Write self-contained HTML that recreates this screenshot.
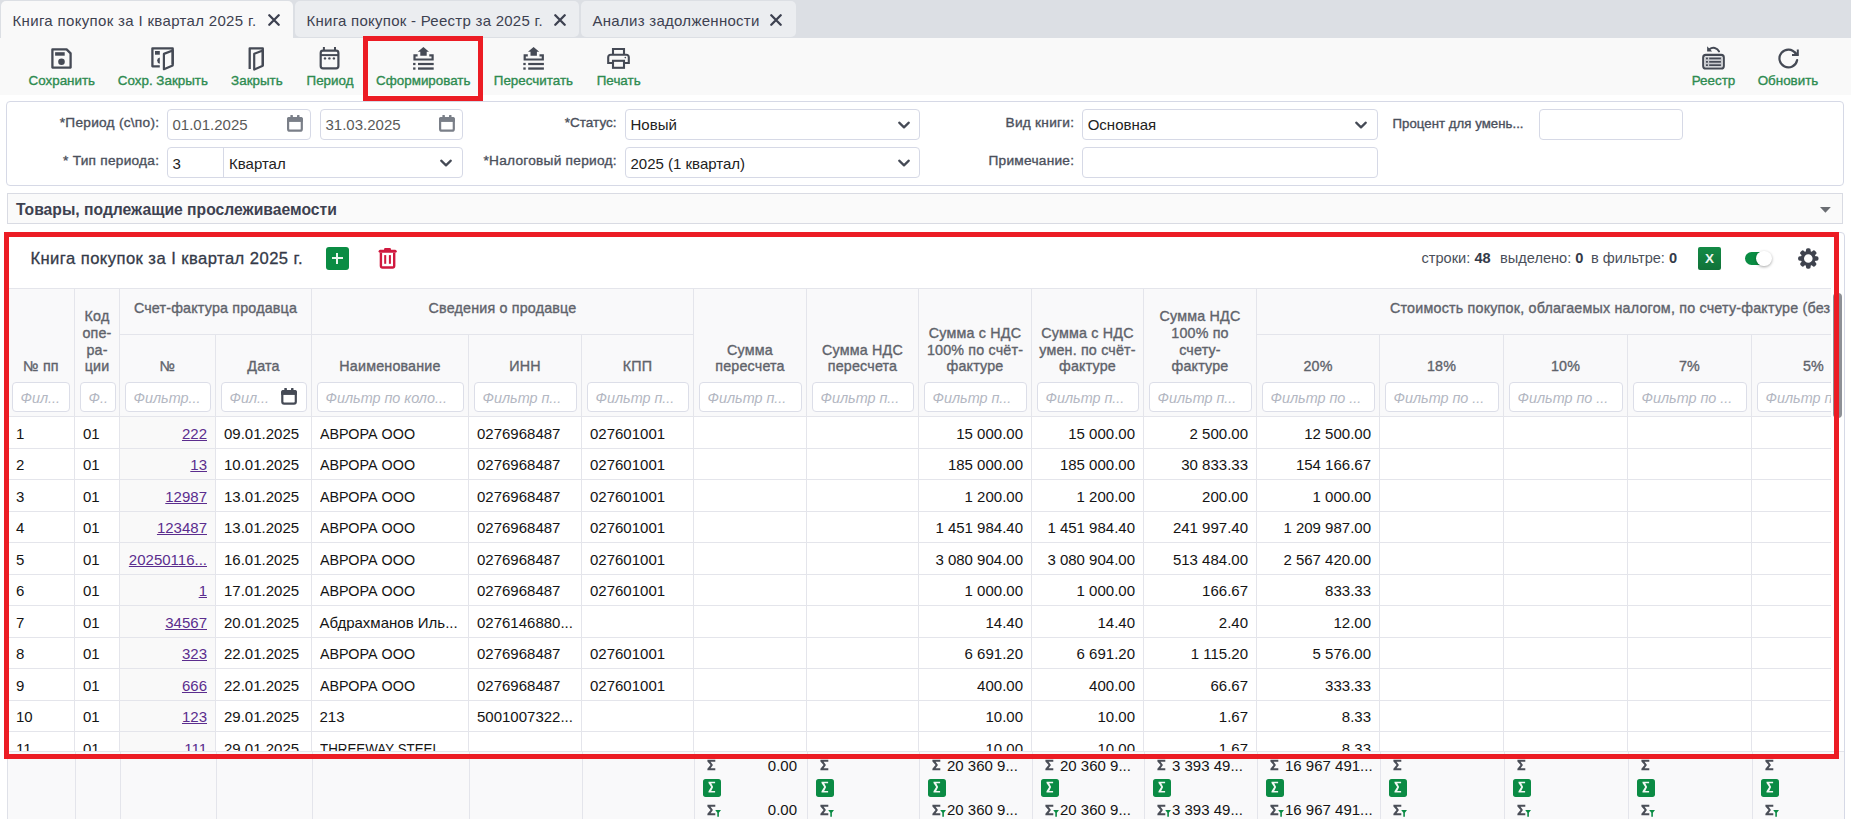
<!DOCTYPE html><html><head><meta charset="utf-8"><style>
*{margin:0;padding:0}
html,body{width:1852px;height:819px;overflow:hidden;background:#fff;font-family:"Liberation Sans", sans-serif;position:relative}
.t{position:absolute;white-space:nowrap}
.b{position:absolute}
</style></head><body><div class="b" style="left:0px;top:0px;width:1852px;height:38px;background:#dcdfe4;"></div>
<div class="b" style="left:1851px;top:0px;width:1px;height:819px;background:#fff;z-index:50"></div>
<div class="b" style="left:1px;top:1px;width:292px;height:37px;background:#f9f9f9;border-radius:5px 5px 0 0;"></div>
<div class="b" style="left:295px;top:1px;width:284px;height:36px;background:#ebedf0;border-radius:5px;"></div>
<div class="b" style="left:581px;top:1px;width:215px;height:36px;background:#ebedf0;border-radius:5px;"></div>
<div class="t" style="top:12.00px;font-size:15px;line-height:18.0px;color:#3d4150;font-weight:400;font-style:normal;left:12.5px;letter-spacing:0.33px;">Книга покупок за I квартал 2025 г.</div>
<svg class="b" style="left:268.0px;top:14.2px" width="12" height="12" viewBox="0 0 12 12"><path d="M1.3 1.3L10.7 10.7M10.7 1.3L1.3 10.7" stroke="#3d4150" stroke-width="2.3" stroke-linecap="round"/></svg>
<div class="t" style="top:12.00px;font-size:15px;line-height:18.0px;color:#3d4150;font-weight:400;font-style:normal;left:306.5px;letter-spacing:0.26px;">Книга покупок - Реестр за 2025 г.</div>
<svg class="b" style="left:554.0px;top:14.2px" width="12" height="12" viewBox="0 0 12 12"><path d="M1.3 1.3L10.7 10.7M10.7 1.3L1.3 10.7" stroke="#3d4150" stroke-width="2.3" stroke-linecap="round"/></svg>
<div class="t" style="top:12.00px;font-size:15px;line-height:18.0px;color:#3d4150;font-weight:400;font-style:normal;left:592.5px;letter-spacing:0.28px;">Анализ задолженности</div>
<svg class="b" style="left:770.0px;top:14.2px" width="12" height="12" viewBox="0 0 12 12"><path d="M1.3 1.3L10.7 10.7M10.7 1.3L1.3 10.7" stroke="#3d4150" stroke-width="2.3" stroke-linecap="round"/></svg>
<div class="b" style="left:0px;top:38px;width:1851px;height:57px;background:#f9f9f9;"></div>
<div class="t" style="top:72.52px;font-size:13.4px;line-height:16.08px;color:#2e8b50;font-weight:400;font-style:normal;-webkit-text-stroke:0.35px #2e8b50;left:-38.2px;width:200px;text-align:center;">Сохранить</div>
<div class="t" style="top:72.52px;font-size:13.4px;line-height:16.08px;color:#2e8b50;font-weight:400;font-style:normal;-webkit-text-stroke:0.35px #2e8b50;left:62.900000000000006px;width:200px;text-align:center;">Сохр. Закрыть</div>
<div class="t" style="top:72.52px;font-size:13.4px;line-height:16.08px;color:#2e8b50;font-weight:400;font-style:normal;-webkit-text-stroke:0.35px #2e8b50;left:156.89999999999998px;width:200px;text-align:center;">Закрыть</div>
<div class="t" style="top:72.52px;font-size:13.4px;line-height:16.08px;color:#2e8b50;font-weight:400;font-style:normal;-webkit-text-stroke:0.35px #2e8b50;left:230.0px;width:200px;text-align:center;">Период</div>
<div class="t" style="top:72.52px;font-size:13.4px;line-height:16.08px;color:#2e8b50;font-weight:400;font-style:normal;-webkit-text-stroke:0.35px #2e8b50;left:323.3px;width:200px;text-align:center;">Сформировать</div>
<div class="t" style="top:72.52px;font-size:13.4px;line-height:16.08px;color:#2e8b50;font-weight:400;font-style:normal;-webkit-text-stroke:0.35px #2e8b50;left:433.4px;width:200px;text-align:center;">Пересчитать</div>
<div class="t" style="top:72.52px;font-size:13.4px;line-height:16.08px;color:#2e8b50;font-weight:400;font-style:normal;-webkit-text-stroke:0.35px #2e8b50;left:518.7px;width:200px;text-align:center;">Печать</div>
<div class="t" style="top:72.52px;font-size:13.4px;line-height:16.08px;color:#2e8b50;font-weight:400;font-style:normal;-webkit-text-stroke:0.35px #2e8b50;left:1613.5px;width:200px;text-align:center;">Реестр</div>
<div class="t" style="top:72.52px;font-size:13.4px;line-height:16.08px;color:#2e8b50;font-weight:400;font-style:normal;-webkit-text-stroke:0.35px #2e8b50;left:1688.0px;width:200px;text-align:center;">Обновить</div>
<div class="b" style="left:363px;top:36px;width:120px;height:65px;border:5px solid #ec1c24;box-sizing:border-box;z-index:40;"></div>
<div class="b" style="left:6px;top:101px;width:1838px;height:85px;background:#fff;border:1px solid #d6d9e6;border-radius:4px;box-sizing:border-box;"></div>
<div class="t" style="top:115.13px;font-size:13.7px;line-height:16.44px;color:#4b505c;font-weight:400;font-style:normal;-webkit-text-stroke:0.35px #4b505c;right:1692.75px;text-align:right;letter-spacing:0.25px;">*Период (с\по):</div>
<div class="t" style="top:153.03px;font-size:13.7px;line-height:16.44px;color:#4b505c;font-weight:400;font-style:normal;-webkit-text-stroke:0.35px #4b505c;right:1692.75px;text-align:right;letter-spacing:0.25px;">* Тип периода:</div>
<div class="b" style="left:167px;top:109px;width:144px;height:31px;background:#fff;border:1px solid #d6d9e6;border-radius:4px;box-sizing:border-box;"></div>
<div class="b" style="left:320px;top:109px;width:143px;height:31px;background:#fff;border:1px solid #d6d9e6;border-radius:4px;box-sizing:border-box;"></div>
<div class="b" style="left:167px;top:147px;width:296px;height:31px;background:#fff;border:1px solid #d6d9e6;border-radius:4px;box-sizing:border-box;"></div>
<div class="b" style="left:223px;top:148px;width:1px;height:29px;background:#d6d9e6;"></div>
<div class="t" style="top:116.10px;font-size:15px;line-height:18.0px;color:#5a5a5a;font-weight:400;font-style:normal;left:172.5px;">01.01.2025</div>
<div class="t" style="top:116.10px;font-size:15px;line-height:18.0px;color:#5a5a5a;font-weight:400;font-style:normal;left:325.5px;">31.03.2025</div>
<div class="t" style="top:155.10px;font-size:15px;line-height:18.0px;color:#222;font-weight:400;font-style:normal;left:172.5px;">3</div>
<div class="t" style="top:155.10px;font-size:15px;line-height:18.0px;color:#222;font-weight:400;font-style:normal;left:229px;">Квартал</div>
<div class="t" style="top:115.32px;font-size:13.5px;line-height:16.2px;color:#4b505c;font-weight:400;font-style:normal;-webkit-text-stroke:0.35px #4b505c;right:1235.5px;text-align:right;letter-spacing:0px;">*Статус:</div>
<div class="t" style="top:153.03px;font-size:13.7px;line-height:16.44px;color:#4b505c;font-weight:400;font-style:normal;-webkit-text-stroke:0.35px #4b505c;right:1235.25px;text-align:right;letter-spacing:0.25px;">*Налоговый период:</div>
<div class="b" style="left:625px;top:109px;width:295px;height:31px;background:#fff;border:1px solid #d6d9e6;border-radius:4px;box-sizing:border-box;"></div>
<div class="b" style="left:625px;top:147px;width:295px;height:31px;background:#fff;border:1px solid #d6d9e6;border-radius:4px;box-sizing:border-box;"></div>
<div class="t" style="top:116.10px;font-size:15px;line-height:18.0px;color:#222;font-weight:400;font-style:normal;left:630.5px;">Новый</div>
<div class="t" style="top:155.10px;font-size:15px;line-height:18.0px;color:#222;font-weight:400;font-style:normal;left:630.5px;">2025 (1 квартал)</div>
<div class="t" style="top:115.13px;font-size:13.7px;line-height:16.44px;color:#4b505c;font-weight:400;font-style:normal;-webkit-text-stroke:0.35px #4b505c;right:777.75px;text-align:right;letter-spacing:0.25px;">Вид книги:</div>
<div class="t" style="top:153.03px;font-size:13.7px;line-height:16.44px;color:#4b505c;font-weight:400;font-style:normal;-webkit-text-stroke:0.35px #4b505c;right:777.75px;text-align:right;letter-spacing:0.25px;">Примечание:</div>
<div class="b" style="left:1082px;top:109px;width:296px;height:31px;background:#fff;border:1px solid #d6d9e6;border-radius:4px;box-sizing:border-box;"></div>
<div class="b" style="left:1082px;top:147px;width:296px;height:31px;background:#fff;border:1px solid #d6d9e6;border-radius:4px;box-sizing:border-box;"></div>
<div class="t" style="top:116.10px;font-size:15px;line-height:18.0px;color:#222;font-weight:400;font-style:normal;left:1087.7px;">Основная</div>
<div class="t" style="top:115.61px;font-size:13.2px;line-height:15.84px;color:#4b505c;font-weight:400;font-style:normal;-webkit-text-stroke:0.35px #4b505c;right:328.45000000000005px;text-align:right;letter-spacing:0.05px;">Процент для умень...</div>
<div class="b" style="left:1539px;top:109px;width:144px;height:31px;background:#fff;border:1px solid #d6d9e6;border-radius:4px;box-sizing:border-box;"></div>
<svg class="b" style="left:45px;top:42px;" width="40" height="32" viewBox="45 42 40 32"><path d="M52.4 49.4H66.6L70.6 53.4V67.6H52.4Z" fill="none" stroke="#454a55" stroke-width="2.3" stroke-linejoin="round"/><rect x="55.1" y="52.2" width="9.6" height="3.5" fill="#454a55"/><circle cx="61.5" cy="61.7" r="3.3" fill="#454a55"/></svg>
<svg class="b" style="left:145px;top:42px;" width="40" height="32" viewBox="145 42 40 32"><path d="M159.8 66.3H152.4V48.3H172.7V64.5" fill="none" stroke="#454a55" stroke-width="2.3" stroke-linejoin="round"/><path d="M163.9 53.9L172.7 50.5V65.4L163.9 69.2Z" fill="none" stroke="#454a55" stroke-width="2.2" stroke-linejoin="round"/><rect x="155" y="51" width="4.8" height="3.7" fill="#454a55"/><path d="M159.8 57.4A3.2 3.2 0 0 0 159.8 63.7Z" fill="#454a55"/></svg>
<svg class="b" style="left:238px;top:42px;" width="40" height="32" viewBox="238 42 40 32"><path d="M249.7 69V48.3H262.8V65.5" fill="none" stroke="#454a55" stroke-width="2.3" stroke-linejoin="round"/><path d="M254.2 53.8L262.8 50.5V65.7L254.2 69.6Z" fill="none" stroke="#454a55" stroke-width="2.2" stroke-linejoin="round"/></svg>
<svg class="b" style="left:310px;top:42px;" width="40" height="32" viewBox="310 42 40 32"><rect x="320.7" y="50.7" width="17.7" height="17.7" rx="2.3" fill="none" stroke="#454a55" stroke-width="2.2"/><path d="M320.7 55.1H338.4" stroke="#454a55" stroke-width="2"/><path d="M323.9 47.1V50.5M335 47.1V50.5" stroke="#454a55" stroke-width="2"/><circle cx="325" cy="58.4" r="1.2" fill="#454a55"/><circle cx="329.4" cy="58.4" r="1.2" fill="#454a55"/><circle cx="333.9" cy="58.4" r="1.2" fill="#454a55"/></svg>
<svg class="b" style="left:403px;top:42px;" width="40" height="32" viewBox="403 42 40 32"><g transform="translate(0 0)"><path d="M423.4 47.1L429 51.7H426.7V55.7H420.3V51.7H417.8Z" fill="#454a55"/><path d="M417.6 55.3H414.5V59.5H432.6V55.3H429.3" fill="none" stroke="#454a55" stroke-width="2.2"/><rect x="413.1" y="62.9" width="2.4" height="2.2" fill="#454a55"/><rect x="418" y="62.9" width="15.7" height="2.2" fill="#454a55"/><rect x="413.1" y="67.4" width="2.4" height="2.3" fill="#454a55"/><rect x="418" y="67.4" width="15.7" height="2.3" fill="#454a55"/></g></svg>
<svg class="b" style="left:513px;top:42px;" width="40" height="32" viewBox="513 42 40 32"><g transform="translate(110.2 0)"><path d="M423.4 47.1L429 51.7H426.7V55.7H420.3V51.7H417.8Z" fill="#454a55"/><path d="M417.6 55.3H414.5V59.5H432.6V55.3H429.3" fill="none" stroke="#454a55" stroke-width="2.2"/><rect x="413.1" y="62.9" width="2.4" height="2.2" fill="#454a55"/><rect x="418" y="62.9" width="15.7" height="2.2" fill="#454a55"/><rect x="413.1" y="67.4" width="2.4" height="2.3" fill="#454a55"/><rect x="418" y="67.4" width="15.7" height="2.3" fill="#454a55"/></g></svg>
<svg class="b" style="left:598px;top:42px;" width="40" height="32" viewBox="598 42 40 32"><path d="M613 54.5V49H624V54.5" fill="none" stroke="#454a55" stroke-width="2.1"/><path d="M613 63H608.2V57.3A2.6 2.6 0 0 1 610.8 54.8H626.2A2.6 2.6 0 0 1 628.8 57.3V63H624" fill="none" stroke="#454a55" stroke-width="2.1"/><rect x="613" y="60.8" width="11" height="7" fill="none" stroke="#454a55" stroke-width="2.1"/><circle cx="625.3" cy="57.6" r="0.8" fill="#454a55"/></svg>
<svg class="b" style="left:1693px;top:42px;" width="40" height="32" viewBox="1693 42 40 32"><rect x="1703.2" y="54.9" width="20.6" height="13.6" rx="2.6" fill="none" stroke="#454a55" stroke-width="2.1"/><rect x="1705" y="56.6" width="17" height="10.2" fill="#c8cacf"/><g fill="#454a55"><rect x="1706" y="57.6" width="1.9" height="1.7"/><rect x="1709.2" y="57.6" width="11.7" height="1.7"/><rect x="1706" y="61" width="1.9" height="1.7"/><rect x="1709.2" y="61" width="11.7" height="1.7"/><rect x="1706" y="64.3" width="1.9" height="1.7"/><rect x="1709.2" y="64.3" width="11.7" height="1.7"/></g><path d="M1707.1 46.2V51.6H1712.2Z" fill="#454a55"/><path d="M1709.5 49.2A6.2 6.2 0 0 1 1719 51.4" fill="none" stroke="#454a55" stroke-width="2.1" stroke-linecap="round"/></svg>
<svg class="b" style="left:1768px;top:42px;" width="40" height="32" viewBox="1768 42 40 32"><path d="M1797.1 60.2A8.9 8.9 0 1 1 1795.6 53.3" fill="none" stroke="#454a55" stroke-width="2.2" stroke-linecap="round"/><path d="M1797.8 49.4V55H1792" fill="none" stroke="#454a55" stroke-width="2"/><path d="M1797.8 55L1794.5 52" stroke="#454a55" stroke-width="2"/></svg>
<svg class="b" style="left:285px;top:113px;" width="20" height="21" viewBox="285 113 20 21"><rect x="288.1" y="118.1" width="13.699999999999978" height="12.600000000000012" rx="1.8" fill="none" stroke="#7a7f88" stroke-width="2.2"/><rect x="287" y="117" width="15.899999999999977" height="4.700000000000003" rx="1.8" fill="#7a7f88"/><rect x="287" y="118.8" width="15.899999999999977" height="2.900000000000003" fill="#7a7f88"/><rect x="290.4" y="114.9" width="2.5" height="2.6" rx="0.6" fill="#7a7f88"/><rect x="297" y="114.9" width="2.5" height="2.6" rx="0.6" fill="#7a7f88"/></svg>
<svg class="b" style="left:437px;top:113px;" width="20" height="21" viewBox="437 113 20 21"><rect x="440.1" y="118.1" width="13.699999999999978" height="12.600000000000012" rx="1.8" fill="none" stroke="#7a7f88" stroke-width="2.2"/><rect x="439" y="117" width="15.899999999999977" height="4.700000000000003" rx="1.8" fill="#7a7f88"/><rect x="439" y="118.8" width="15.899999999999977" height="2.900000000000003" fill="#7a7f88"/><rect x="442.4" y="114.9" width="2.5" height="2.6" rx="0.6" fill="#7a7f88"/><rect x="449" y="114.9" width="2.5" height="2.6" rx="0.6" fill="#7a7f88"/></svg>
<svg class="b" style="left:438.9px;top:157.05px;" width="14" height="12" viewBox="438.9 157.05 14 12"><path d="M441.09999999999997 160.70000000000002L445.9 165.4L450.7 160.70000000000002" fill="none" stroke="#454a55" stroke-width="2.2" stroke-linecap="round" stroke-linejoin="round"/></svg>
<svg class="b" style="left:897px;top:118.6px;" width="14" height="12" viewBox="897 118.6 14 12"><path d="M899.2 122.25L904 126.94999999999999L908.8 122.25" fill="none" stroke="#454a55" stroke-width="2.2" stroke-linecap="round" stroke-linejoin="round"/></svg>
<svg class="b" style="left:897px;top:157.05px;" width="14" height="12" viewBox="897 157.05 14 12"><path d="M899.2 160.70000000000002L904 165.4L908.8 160.70000000000002" fill="none" stroke="#454a55" stroke-width="2.2" stroke-linecap="round" stroke-linejoin="round"/></svg>
<svg class="b" style="left:1354px;top:118.6px;" width="14" height="12" viewBox="1354 118.6 14 12"><path d="M1356.2 122.25L1361 126.94999999999999L1365.8 122.25" fill="none" stroke="#454a55" stroke-width="2.2" stroke-linecap="round" stroke-linejoin="round"/></svg>
<div class="b" style="left:7px;top:193px;width:1836px;height:31px;background:#fafafa;border:1px solid #d9dbe3;box-sizing:border-box;"></div>
<svg class="b" style="left:1815px;top:200px;" width="20" height="18" viewBox="1815 200 20 18"><path d="M1820 206.9H1830.8L1825.4 212.7Z" fill="#6a6d72"/></svg>
<div class="t" style="top:200.74px;font-size:15.7px;line-height:18.84px;color:#3d4150;font-weight:700;font-style:normal;left:16px;">Товары, подлежащие прослеживаемости</div>
<div class="b" style="left:7px;top:232px;width:1838px;height:587px;background:#fff;border:1px solid #d6d9e6;border-radius:4px;box-sizing:border-box;"></div>
<div class="b" style="left:7px;top:288px;width:1824px;height:128px;background:#f9f9fa;"></div>
<div class="b" style="left:7px;top:288px;width:1824px;height:1px;background:#e4e5eb;"></div>
<div class="b" style="left:7px;top:416px;width:1824px;height:1px;background:#e4e5eb;"></div>
<div class="b" style="left:119px;top:334px;width:192px;height:1px;background:#e4e5eb;"></div>
<div class="b" style="left:311px;top:334px;width:382px;height:1px;background:#e4e5eb;"></div>
<div class="b" style="left:1256px;top:334px;width:575px;height:1px;background:#e4e5eb;"></div>
<div class="b" style="left:74px;top:288px;width:1px;height:128px;background:#e4e5eb;"></div>
<div class="b" style="left:119px;top:288px;width:1px;height:128px;background:#e4e5eb;"></div>
<div class="b" style="left:215px;top:334px;width:1px;height:82px;background:#e4e5eb;"></div>
<div class="b" style="left:311px;top:288px;width:1px;height:128px;background:#e4e5eb;"></div>
<div class="b" style="left:468px;top:334px;width:1px;height:82px;background:#e4e5eb;"></div>
<div class="b" style="left:581px;top:334px;width:1px;height:82px;background:#e4e5eb;"></div>
<div class="b" style="left:693px;top:288px;width:1px;height:128px;background:#e4e5eb;"></div>
<div class="b" style="left:806px;top:288px;width:1px;height:128px;background:#e4e5eb;"></div>
<div class="b" style="left:918px;top:288px;width:1px;height:128px;background:#e4e5eb;"></div>
<div class="b" style="left:1031px;top:288px;width:1px;height:128px;background:#e4e5eb;"></div>
<div class="b" style="left:1143px;top:288px;width:1px;height:128px;background:#e4e5eb;"></div>
<div class="b" style="left:1256px;top:288px;width:1px;height:128px;background:#e4e5eb;"></div>
<div class="b" style="left:1379px;top:334px;width:1px;height:82px;background:#e4e5eb;"></div>
<div class="b" style="left:1503px;top:334px;width:1px;height:82px;background:#e4e5eb;"></div>
<div class="b" style="left:1627px;top:334px;width:1px;height:82px;background:#e4e5eb;"></div>
<div class="b" style="left:1751px;top:334px;width:1px;height:82px;background:#e4e5eb;"></div>
<div class="t" style="top:358.47px;font-size:14.3px;line-height:17.16px;color:#5f636b;font-weight:400;font-style:normal;-webkit-text-stroke:0.35px #5f636b;left:-109.0px;width:300px;text-align:center;letter-spacing:0.18px;">№ пп</div>
<div class="t" style="top:308.46px;font-size:14.3px;line-height:17.16px;color:#5f636b;font-weight:400;font-style:normal;-webkit-text-stroke:0.35px #5f636b;left:-53.0px;width:300px;text-align:center;letter-spacing:0.18px;">Код</div>
<div class="t" style="top:325.13px;font-size:14.3px;line-height:17.16px;color:#5f636b;font-weight:400;font-style:normal;-webkit-text-stroke:0.35px #5f636b;left:-53.0px;width:300px;text-align:center;letter-spacing:0.18px;">опе-</div>
<div class="t" style="top:341.80px;font-size:14.3px;line-height:17.16px;color:#5f636b;font-weight:400;font-style:normal;-webkit-text-stroke:0.35px #5f636b;left:-53.0px;width:300px;text-align:center;letter-spacing:0.18px;">ра-</div>
<div class="t" style="top:358.47px;font-size:14.3px;line-height:17.16px;color:#5f636b;font-weight:400;font-style:normal;-webkit-text-stroke:0.35px #5f636b;left:-53.0px;width:300px;text-align:center;letter-spacing:0.18px;">ции</div>
<div class="t" style="top:358.47px;font-size:14.3px;line-height:17.16px;color:#5f636b;font-weight:400;font-style:normal;-webkit-text-stroke:0.35px #5f636b;left:17.5px;width:300px;text-align:center;letter-spacing:0.18px;">№</div>
<div class="t" style="top:358.47px;font-size:14.3px;line-height:17.16px;color:#5f636b;font-weight:400;font-style:normal;-webkit-text-stroke:0.35px #5f636b;left:113.5px;width:300px;text-align:center;letter-spacing:0.18px;">Дата</div>
<div class="t" style="top:358.47px;font-size:14.3px;line-height:17.16px;color:#5f636b;font-weight:400;font-style:normal;-webkit-text-stroke:0.35px #5f636b;left:240.0px;width:300px;text-align:center;letter-spacing:0.18px;">Наименование</div>
<div class="t" style="top:358.47px;font-size:14.3px;line-height:17.16px;color:#5f636b;font-weight:400;font-style:normal;-webkit-text-stroke:0.35px #5f636b;left:375.0px;width:300px;text-align:center;letter-spacing:0.18px;">ИНН</div>
<div class="t" style="top:358.47px;font-size:14.3px;line-height:17.16px;color:#5f636b;font-weight:400;font-style:normal;-webkit-text-stroke:0.35px #5f636b;left:487.5px;width:300px;text-align:center;letter-spacing:0.18px;">КПП</div>
<div class="t" style="top:341.80px;font-size:14.3px;line-height:17.16px;color:#5f636b;font-weight:400;font-style:normal;-webkit-text-stroke:0.35px #5f636b;left:600.0px;width:300px;text-align:center;letter-spacing:0.18px;">Сумма</div>
<div class="t" style="top:358.47px;font-size:14.3px;line-height:17.16px;color:#5f636b;font-weight:400;font-style:normal;-webkit-text-stroke:0.35px #5f636b;left:600.0px;width:300px;text-align:center;letter-spacing:0.18px;">пересчета</div>
<div class="t" style="top:341.80px;font-size:14.3px;line-height:17.16px;color:#5f636b;font-weight:400;font-style:normal;-webkit-text-stroke:0.35px #5f636b;left:712.5px;width:300px;text-align:center;letter-spacing:0.18px;">Сумма НДС</div>
<div class="t" style="top:358.47px;font-size:14.3px;line-height:17.16px;color:#5f636b;font-weight:400;font-style:normal;-webkit-text-stroke:0.35px #5f636b;left:712.5px;width:300px;text-align:center;letter-spacing:0.18px;">пересчета</div>
<div class="t" style="top:325.13px;font-size:14.3px;line-height:17.16px;color:#5f636b;font-weight:400;font-style:normal;-webkit-text-stroke:0.35px #5f636b;left:825.0px;width:300px;text-align:center;letter-spacing:0.18px;">Сумма с НДС</div>
<div class="t" style="top:341.80px;font-size:14.3px;line-height:17.16px;color:#5f636b;font-weight:400;font-style:normal;-webkit-text-stroke:0.35px #5f636b;left:825.0px;width:300px;text-align:center;letter-spacing:0.18px;">100% по счёт-</div>
<div class="t" style="top:358.47px;font-size:14.3px;line-height:17.16px;color:#5f636b;font-weight:400;font-style:normal;-webkit-text-stroke:0.35px #5f636b;left:825.0px;width:300px;text-align:center;letter-spacing:0.18px;">фактуре</div>
<div class="t" style="top:325.13px;font-size:14.3px;line-height:17.16px;color:#5f636b;font-weight:400;font-style:normal;-webkit-text-stroke:0.35px #5f636b;left:937.5px;width:300px;text-align:center;letter-spacing:0.18px;">Сумма с НДС</div>
<div class="t" style="top:341.80px;font-size:14.3px;line-height:17.16px;color:#5f636b;font-weight:400;font-style:normal;-webkit-text-stroke:0.35px #5f636b;left:937.5px;width:300px;text-align:center;letter-spacing:0.18px;">умен. по счёт-</div>
<div class="t" style="top:358.47px;font-size:14.3px;line-height:17.16px;color:#5f636b;font-weight:400;font-style:normal;-webkit-text-stroke:0.35px #5f636b;left:937.5px;width:300px;text-align:center;letter-spacing:0.18px;">фактуре</div>
<div class="t" style="top:308.46px;font-size:14.3px;line-height:17.16px;color:#5f636b;font-weight:400;font-style:normal;-webkit-text-stroke:0.35px #5f636b;left:1050.0px;width:300px;text-align:center;letter-spacing:0.18px;">Сумма НДС</div>
<div class="t" style="top:325.13px;font-size:14.3px;line-height:17.16px;color:#5f636b;font-weight:400;font-style:normal;-webkit-text-stroke:0.35px #5f636b;left:1050.0px;width:300px;text-align:center;letter-spacing:0.18px;">100% по</div>
<div class="t" style="top:341.80px;font-size:14.3px;line-height:17.16px;color:#5f636b;font-weight:400;font-style:normal;-webkit-text-stroke:0.35px #5f636b;left:1050.0px;width:300px;text-align:center;letter-spacing:0.18px;">счету-</div>
<div class="t" style="top:358.47px;font-size:14.3px;line-height:17.16px;color:#5f636b;font-weight:400;font-style:normal;-webkit-text-stroke:0.35px #5f636b;left:1050.0px;width:300px;text-align:center;letter-spacing:0.18px;">фактуре</div>
<div class="t" style="top:358.47px;font-size:14.3px;line-height:17.16px;color:#5f636b;font-weight:400;font-style:normal;-webkit-text-stroke:0.35px #5f636b;left:1168.0px;width:300px;text-align:center;letter-spacing:0.18px;">20%</div>
<div class="t" style="top:358.47px;font-size:14.3px;line-height:17.16px;color:#5f636b;font-weight:400;font-style:normal;-webkit-text-stroke:0.35px #5f636b;left:1291.5px;width:300px;text-align:center;letter-spacing:0.18px;">18%</div>
<div class="t" style="top:358.47px;font-size:14.3px;line-height:17.16px;color:#5f636b;font-weight:400;font-style:normal;-webkit-text-stroke:0.35px #5f636b;left:1415.5px;width:300px;text-align:center;letter-spacing:0.18px;">10%</div>
<div class="t" style="top:358.47px;font-size:14.3px;line-height:17.16px;color:#5f636b;font-weight:400;font-style:normal;-webkit-text-stroke:0.35px #5f636b;left:1539.5px;width:300px;text-align:center;letter-spacing:0.18px;">7%</div>
<div class="t" style="top:358.47px;font-size:14.3px;line-height:17.16px;color:#5f636b;font-weight:400;font-style:normal;-webkit-text-stroke:0.35px #5f636b;left:1663.5px;width:300px;text-align:center;letter-spacing:0.18px;">5%</div>
<div class="t" style="top:300.47px;font-size:14.3px;line-height:17.16px;color:#5f636b;font-weight:400;font-style:normal;-webkit-text-stroke:0.35px #5f636b;left:65.5px;width:300px;text-align:center;letter-spacing:0.18px;">Счет-фактура продавца</div>
<div class="t" style="top:300.47px;font-size:14.3px;line-height:17.16px;color:#5f636b;font-weight:400;font-style:normal;-webkit-text-stroke:0.35px #5f636b;left:352.5px;width:300px;text-align:center;letter-spacing:0.18px;">Сведения о продавце</div>
<div class="t" style="top:300.47px;font-size:14.3px;line-height:17.16px;color:#5f636b;font-weight:400;font-style:normal;-webkit-text-stroke:0.35px #5f636b;left:1390px;letter-spacing:0.2px;">Стоимость покупок, облагаемых налогом, по счету-фактуре (без вычета НДС)</div>
<div class="b" style="left:12px;top:382px;width:58px;height:30px;background:#fff;border:1px solid #dcdee8;border-radius:4px;box-sizing:border-box;"></div>
<div class="t" style="top:389.57px;font-size:14.4px;line-height:17.28px;color:#b3b7c2;font-weight:400;font-style:italic;left:20.5px;">Фил...</div>
<div class="b" style="left:80px;top:382px;width:36px;height:30px;background:#fff;border:1px solid #dcdee8;border-radius:4px;box-sizing:border-box;"></div>
<div class="t" style="top:389.57px;font-size:14.4px;line-height:17.28px;color:#b3b7c2;font-weight:400;font-style:italic;left:88.5px;">Ф..</div>
<div class="b" style="left:125px;top:382px;width:86px;height:30px;background:#fff;border:1px solid #dcdee8;border-radius:4px;box-sizing:border-box;"></div>
<div class="t" style="top:389.57px;font-size:14.4px;line-height:17.28px;color:#b3b7c2;font-weight:400;font-style:italic;left:133.5px;">Фильтр...</div>
<div class="b" style="left:221px;top:382px;width:86px;height:30px;background:#fff;border:1px solid #dcdee8;border-radius:4px;box-sizing:border-box;"></div>
<div class="t" style="top:389.57px;font-size:14.4px;line-height:17.28px;color:#b3b7c2;font-weight:400;font-style:italic;left:229.5px;">Фил...</div>
<div class="b" style="left:317px;top:382px;width:147px;height:30px;background:#fff;border:1px solid #dcdee8;border-radius:4px;box-sizing:border-box;"></div>
<div class="t" style="top:389.57px;font-size:14.4px;line-height:17.28px;color:#b3b7c2;font-weight:400;font-style:italic;left:325.5px;">Фильтр по коло...</div>
<div class="b" style="left:474px;top:382px;width:103px;height:30px;background:#fff;border:1px solid #dcdee8;border-radius:4px;box-sizing:border-box;"></div>
<div class="t" style="top:389.57px;font-size:14.4px;line-height:17.28px;color:#b3b7c2;font-weight:400;font-style:italic;left:482.5px;">Фильтр п...</div>
<div class="b" style="left:587px;top:382px;width:102px;height:30px;background:#fff;border:1px solid #dcdee8;border-radius:4px;box-sizing:border-box;"></div>
<div class="t" style="top:389.57px;font-size:14.4px;line-height:17.28px;color:#b3b7c2;font-weight:400;font-style:italic;left:595.5px;">Фильтр п...</div>
<div class="b" style="left:699px;top:382px;width:103px;height:30px;background:#fff;border:1px solid #dcdee8;border-radius:4px;box-sizing:border-box;"></div>
<div class="t" style="top:389.57px;font-size:14.4px;line-height:17.28px;color:#b3b7c2;font-weight:400;font-style:italic;left:707.5px;">Фильтр п...</div>
<div class="b" style="left:812px;top:382px;width:102px;height:30px;background:#fff;border:1px solid #dcdee8;border-radius:4px;box-sizing:border-box;"></div>
<div class="t" style="top:389.57px;font-size:14.4px;line-height:17.28px;color:#b3b7c2;font-weight:400;font-style:italic;left:820.5px;">Фильтр п...</div>
<div class="b" style="left:924px;top:382px;width:103px;height:30px;background:#fff;border:1px solid #dcdee8;border-radius:4px;box-sizing:border-box;"></div>
<div class="t" style="top:389.57px;font-size:14.4px;line-height:17.28px;color:#b3b7c2;font-weight:400;font-style:italic;left:932.5px;">Фильтр п...</div>
<div class="b" style="left:1037px;top:382px;width:102px;height:30px;background:#fff;border:1px solid #dcdee8;border-radius:4px;box-sizing:border-box;"></div>
<div class="t" style="top:389.57px;font-size:14.4px;line-height:17.28px;color:#b3b7c2;font-weight:400;font-style:italic;left:1045.5px;">Фильтр п...</div>
<div class="b" style="left:1149px;top:382px;width:103px;height:30px;background:#fff;border:1px solid #dcdee8;border-radius:4px;box-sizing:border-box;"></div>
<div class="t" style="top:389.57px;font-size:14.4px;line-height:17.28px;color:#b3b7c2;font-weight:400;font-style:italic;left:1157.5px;">Фильтр п...</div>
<div class="b" style="left:1262px;top:382px;width:113px;height:30px;background:#fff;border:1px solid #dcdee8;border-radius:4px;box-sizing:border-box;"></div>
<div class="t" style="top:389.57px;font-size:14.4px;line-height:17.28px;color:#b3b7c2;font-weight:400;font-style:italic;left:1270.5px;">Фильтр по ...</div>
<div class="b" style="left:1385px;top:382px;width:114px;height:30px;background:#fff;border:1px solid #dcdee8;border-radius:4px;box-sizing:border-box;"></div>
<div class="t" style="top:389.57px;font-size:14.4px;line-height:17.28px;color:#b3b7c2;font-weight:400;font-style:italic;left:1393.5px;">Фильтр по ...</div>
<div class="b" style="left:1509px;top:382px;width:114px;height:30px;background:#fff;border:1px solid #dcdee8;border-radius:4px;box-sizing:border-box;"></div>
<div class="t" style="top:389.57px;font-size:14.4px;line-height:17.28px;color:#b3b7c2;font-weight:400;font-style:italic;left:1517.5px;">Фильтр по ...</div>
<div class="b" style="left:1633px;top:382px;width:114px;height:30px;background:#fff;border:1px solid #dcdee8;border-radius:4px;box-sizing:border-box;"></div>
<div class="t" style="top:389.57px;font-size:14.4px;line-height:17.28px;color:#b3b7c2;font-weight:400;font-style:italic;left:1641.5px;">Фильтр по ...</div>
<div class="b" style="left:1757px;top:382px;width:103px;height:30px;background:#fff;border:1px solid #dcdee8;border-radius:4px;box-sizing:border-box;"></div>
<div class="t" style="top:389.57px;font-size:14.4px;line-height:17.28px;color:#b3b7c2;font-weight:400;font-style:italic;left:1765.5px;">Фильтр по колонке</div>
<svg class="b" style="left:279px;top:386px;" width="20" height="21" viewBox="279 386 20 21"><rect x="282.3" y="391.1" width="13.49999999999999" height="12.49999999999999" rx="1.8" fill="none" stroke="#454a55" stroke-width="2.2"/><rect x="281.2" y="390" width="15.699999999999989" height="4.699999999999989" rx="1.8" fill="#454a55"/><rect x="281.2" y="391.8" width="15.699999999999989" height="2.899999999999989" fill="#454a55"/><rect x="284.3" y="387.9" width="2.599999999999966" height="2.6" rx="0.6" fill="#454a55"/><rect x="291" y="387.9" width="2.5" height="2.6" rx="0.6" fill="#454a55"/></svg>
<div class="b" style="left:0;top:417px;width:1852px;height:334px;overflow:hidden;z-index:1">
<div class="b" style="left:119px;top:0;width:96px;height:400px;background:#f9f9f9"></div>
<div class="b" style="left:74px;top:0;width:1px;height:400px;background:#e4e5eb"></div>
<div class="b" style="left:119px;top:0;width:1px;height:400px;background:#e4e5eb"></div>
<div class="b" style="left:215px;top:0;width:1px;height:400px;background:#e4e5eb"></div>
<div class="b" style="left:311px;top:0;width:1px;height:400px;background:#e4e5eb"></div>
<div class="b" style="left:468px;top:0;width:1px;height:400px;background:#e4e5eb"></div>
<div class="b" style="left:581px;top:0;width:1px;height:400px;background:#e4e5eb"></div>
<div class="b" style="left:693px;top:0;width:1px;height:400px;background:#e4e5eb"></div>
<div class="b" style="left:806px;top:0;width:1px;height:400px;background:#e4e5eb"></div>
<div class="b" style="left:918px;top:0;width:1px;height:400px;background:#e4e5eb"></div>
<div class="b" style="left:1031px;top:0;width:1px;height:400px;background:#e4e5eb"></div>
<div class="b" style="left:1143px;top:0;width:1px;height:400px;background:#e4e5eb"></div>
<div class="b" style="left:1256px;top:0;width:1px;height:400px;background:#e4e5eb"></div>
<div class="b" style="left:1379px;top:0;width:1px;height:400px;background:#e4e5eb"></div>
<div class="b" style="left:1503px;top:0;width:1px;height:400px;background:#e4e5eb"></div>
<div class="b" style="left:1627px;top:0;width:1px;height:400px;background:#e4e5eb"></div>
<div class="b" style="left:1751px;top:0;width:1px;height:400px;background:#e4e5eb"></div>
<div class="b" style="left:7px;top:31px;width:1824px;height:1px;background:#e4e5eb"></div>
<div class="b" style="left:7px;top:62px;width:1824px;height:1px;background:#e4e5eb"></div>
<div class="b" style="left:7px;top:94px;width:1824px;height:1px;background:#e4e5eb"></div>
<div class="b" style="left:7px;top:125px;width:1824px;height:1px;background:#e4e5eb"></div>
<div class="b" style="left:7px;top:157px;width:1824px;height:1px;background:#e4e5eb"></div>
<div class="b" style="left:7px;top:188px;width:1824px;height:1px;background:#e4e5eb"></div>
<div class="b" style="left:7px;top:220px;width:1824px;height:1px;background:#e4e5eb"></div>
<div class="b" style="left:7px;top:251px;width:1824px;height:1px;background:#e4e5eb"></div>
<div class="b" style="left:7px;top:283px;width:1824px;height:1px;background:#e4e5eb"></div>
<div class="b" style="left:7px;top:314px;width:1824px;height:1px;background:#e4e5eb"></div>
<div class="b" style="left:7px;top:346px;width:1824px;height:1px;background:#e4e5eb"></div>
<div class="t" style="top:7.70px;font-size:15px;line-height:18px;color:#141414;left:16px;">1</div>
<div class="t" style="top:7.70px;font-size:15px;line-height:18px;color:#141414;left:83px;">01</div>
<div class="t" style="top:7.70px;font-size:15px;line-height:18px;color:#5b2d8e;right:1645px;text-decoration:underline;text-underline-offset:1px;">222</div>
<div class="t" style="top:7.70px;font-size:15px;line-height:18px;color:#141414;left:224px;">09.01.2025</div>
<div class="t" style="top:7.70px;font-size:15px;line-height:18px;color:#141414;left:319.5px;transform:scaleX(0.955);transform-origin:0 0;">АВРОРА ООО</div>
<div class="t" style="top:7.70px;font-size:15px;line-height:18px;color:#141414;left:477px;">0276968487</div>
<div class="t" style="top:7.70px;font-size:15px;line-height:18px;color:#141414;left:590px;">027601001</div>
<div class="t" style="top:7.70px;font-size:15px;line-height:18px;color:#141414;right:829px;">15 000.00</div>
<div class="t" style="top:7.70px;font-size:15px;line-height:18px;color:#141414;right:717px;">15 000.00</div>
<div class="t" style="top:7.70px;font-size:15px;line-height:18px;color:#141414;right:604px;">2 500.00</div>
<div class="t" style="top:7.70px;font-size:15px;line-height:18px;color:#141414;right:481px;">12 500.00</div>
<div class="t" style="top:39.20px;font-size:15px;line-height:18px;color:#141414;left:16px;">2</div>
<div class="t" style="top:39.20px;font-size:15px;line-height:18px;color:#141414;left:83px;">01</div>
<div class="t" style="top:39.20px;font-size:15px;line-height:18px;color:#5b2d8e;right:1645px;text-decoration:underline;text-underline-offset:1px;">13</div>
<div class="t" style="top:39.20px;font-size:15px;line-height:18px;color:#141414;left:224px;">10.01.2025</div>
<div class="t" style="top:39.20px;font-size:15px;line-height:18px;color:#141414;left:319.5px;transform:scaleX(0.955);transform-origin:0 0;">АВРОРА ООО</div>
<div class="t" style="top:39.20px;font-size:15px;line-height:18px;color:#141414;left:477px;">0276968487</div>
<div class="t" style="top:39.20px;font-size:15px;line-height:18px;color:#141414;left:590px;">027601001</div>
<div class="t" style="top:39.20px;font-size:15px;line-height:18px;color:#141414;right:829px;">185 000.00</div>
<div class="t" style="top:39.20px;font-size:15px;line-height:18px;color:#141414;right:717px;">185 000.00</div>
<div class="t" style="top:39.20px;font-size:15px;line-height:18px;color:#141414;right:604px;">30 833.33</div>
<div class="t" style="top:39.20px;font-size:15px;line-height:18px;color:#141414;right:481px;">154 166.67</div>
<div class="t" style="top:70.70px;font-size:15px;line-height:18px;color:#141414;left:16px;">3</div>
<div class="t" style="top:70.70px;font-size:15px;line-height:18px;color:#141414;left:83px;">01</div>
<div class="t" style="top:70.70px;font-size:15px;line-height:18px;color:#5b2d8e;right:1645px;text-decoration:underline;text-underline-offset:1px;">12987</div>
<div class="t" style="top:70.70px;font-size:15px;line-height:18px;color:#141414;left:224px;">13.01.2025</div>
<div class="t" style="top:70.70px;font-size:15px;line-height:18px;color:#141414;left:319.5px;transform:scaleX(0.955);transform-origin:0 0;">АВРОРА ООО</div>
<div class="t" style="top:70.70px;font-size:15px;line-height:18px;color:#141414;left:477px;">0276968487</div>
<div class="t" style="top:70.70px;font-size:15px;line-height:18px;color:#141414;left:590px;">027601001</div>
<div class="t" style="top:70.70px;font-size:15px;line-height:18px;color:#141414;right:829px;">1 200.00</div>
<div class="t" style="top:70.70px;font-size:15px;line-height:18px;color:#141414;right:717px;">1 200.00</div>
<div class="t" style="top:70.70px;font-size:15px;line-height:18px;color:#141414;right:604px;">200.00</div>
<div class="t" style="top:70.70px;font-size:15px;line-height:18px;color:#141414;right:481px;">1 000.00</div>
<div class="t" style="top:102.20px;font-size:15px;line-height:18px;color:#141414;left:16px;">4</div>
<div class="t" style="top:102.20px;font-size:15px;line-height:18px;color:#141414;left:83px;">01</div>
<div class="t" style="top:102.20px;font-size:15px;line-height:18px;color:#5b2d8e;right:1645px;text-decoration:underline;text-underline-offset:1px;">123487</div>
<div class="t" style="top:102.20px;font-size:15px;line-height:18px;color:#141414;left:224px;">13.01.2025</div>
<div class="t" style="top:102.20px;font-size:15px;line-height:18px;color:#141414;left:319.5px;transform:scaleX(0.955);transform-origin:0 0;">АВРОРА ООО</div>
<div class="t" style="top:102.20px;font-size:15px;line-height:18px;color:#141414;left:477px;">0276968487</div>
<div class="t" style="top:102.20px;font-size:15px;line-height:18px;color:#141414;left:590px;">027601001</div>
<div class="t" style="top:102.20px;font-size:15px;line-height:18px;color:#141414;right:829px;">1 451 984.40</div>
<div class="t" style="top:102.20px;font-size:15px;line-height:18px;color:#141414;right:717px;">1 451 984.40</div>
<div class="t" style="top:102.20px;font-size:15px;line-height:18px;color:#141414;right:604px;">241 997.40</div>
<div class="t" style="top:102.20px;font-size:15px;line-height:18px;color:#141414;right:481px;">1 209 987.00</div>
<div class="t" style="top:133.70px;font-size:15px;line-height:18px;color:#141414;left:16px;">5</div>
<div class="t" style="top:133.70px;font-size:15px;line-height:18px;color:#141414;left:83px;">01</div>
<div class="t" style="top:133.70px;font-size:15px;line-height:18px;color:#5b2d8e;right:1645px;text-decoration:underline;text-underline-offset:1px;">20250116...</div>
<div class="t" style="top:133.70px;font-size:15px;line-height:18px;color:#141414;left:224px;">16.01.2025</div>
<div class="t" style="top:133.70px;font-size:15px;line-height:18px;color:#141414;left:319.5px;transform:scaleX(0.955);transform-origin:0 0;">АВРОРА ООО</div>
<div class="t" style="top:133.70px;font-size:15px;line-height:18px;color:#141414;left:477px;">0276968487</div>
<div class="t" style="top:133.70px;font-size:15px;line-height:18px;color:#141414;left:590px;">027601001</div>
<div class="t" style="top:133.70px;font-size:15px;line-height:18px;color:#141414;right:829px;">3 080 904.00</div>
<div class="t" style="top:133.70px;font-size:15px;line-height:18px;color:#141414;right:717px;">3 080 904.00</div>
<div class="t" style="top:133.70px;font-size:15px;line-height:18px;color:#141414;right:604px;">513 484.00</div>
<div class="t" style="top:133.70px;font-size:15px;line-height:18px;color:#141414;right:481px;">2 567 420.00</div>
<div class="t" style="top:165.20px;font-size:15px;line-height:18px;color:#141414;left:16px;">6</div>
<div class="t" style="top:165.20px;font-size:15px;line-height:18px;color:#141414;left:83px;">01</div>
<div class="t" style="top:165.20px;font-size:15px;line-height:18px;color:#5b2d8e;right:1645px;text-decoration:underline;text-underline-offset:1px;">1</div>
<div class="t" style="top:165.20px;font-size:15px;line-height:18px;color:#141414;left:224px;">17.01.2025</div>
<div class="t" style="top:165.20px;font-size:15px;line-height:18px;color:#141414;left:319.5px;transform:scaleX(0.955);transform-origin:0 0;">АВРОРА ООО</div>
<div class="t" style="top:165.20px;font-size:15px;line-height:18px;color:#141414;left:477px;">0276968487</div>
<div class="t" style="top:165.20px;font-size:15px;line-height:18px;color:#141414;left:590px;">027601001</div>
<div class="t" style="top:165.20px;font-size:15px;line-height:18px;color:#141414;right:829px;">1 000.00</div>
<div class="t" style="top:165.20px;font-size:15px;line-height:18px;color:#141414;right:717px;">1 000.00</div>
<div class="t" style="top:165.20px;font-size:15px;line-height:18px;color:#141414;right:604px;">166.67</div>
<div class="t" style="top:165.20px;font-size:15px;line-height:18px;color:#141414;right:481px;">833.33</div>
<div class="t" style="top:196.70px;font-size:15px;line-height:18px;color:#141414;left:16px;">7</div>
<div class="t" style="top:196.70px;font-size:15px;line-height:18px;color:#141414;left:83px;">01</div>
<div class="t" style="top:196.70px;font-size:15px;line-height:18px;color:#5b2d8e;right:1645px;text-decoration:underline;text-underline-offset:1px;">34567</div>
<div class="t" style="top:196.70px;font-size:15px;line-height:18px;color:#141414;left:224px;">20.01.2025</div>
<div class="t" style="top:196.70px;font-size:15px;line-height:18px;color:#141414;left:319.5px;">Абдрахманов Иль...</div>
<div class="t" style="top:196.70px;font-size:15px;line-height:18px;color:#141414;left:477px;">0276146880...</div>
<div class="t" style="top:196.70px;font-size:15px;line-height:18px;color:#141414;left:590px;"></div>
<div class="t" style="top:196.70px;font-size:15px;line-height:18px;color:#141414;right:829px;">14.40</div>
<div class="t" style="top:196.70px;font-size:15px;line-height:18px;color:#141414;right:717px;">14.40</div>
<div class="t" style="top:196.70px;font-size:15px;line-height:18px;color:#141414;right:604px;">2.40</div>
<div class="t" style="top:196.70px;font-size:15px;line-height:18px;color:#141414;right:481px;">12.00</div>
<div class="t" style="top:228.20px;font-size:15px;line-height:18px;color:#141414;left:16px;">8</div>
<div class="t" style="top:228.20px;font-size:15px;line-height:18px;color:#141414;left:83px;">01</div>
<div class="t" style="top:228.20px;font-size:15px;line-height:18px;color:#5b2d8e;right:1645px;text-decoration:underline;text-underline-offset:1px;">323</div>
<div class="t" style="top:228.20px;font-size:15px;line-height:18px;color:#141414;left:224px;">22.01.2025</div>
<div class="t" style="top:228.20px;font-size:15px;line-height:18px;color:#141414;left:319.5px;transform:scaleX(0.955);transform-origin:0 0;">АВРОРА ООО</div>
<div class="t" style="top:228.20px;font-size:15px;line-height:18px;color:#141414;left:477px;">0276968487</div>
<div class="t" style="top:228.20px;font-size:15px;line-height:18px;color:#141414;left:590px;">027601001</div>
<div class="t" style="top:228.20px;font-size:15px;line-height:18px;color:#141414;right:829px;">6 691.20</div>
<div class="t" style="top:228.20px;font-size:15px;line-height:18px;color:#141414;right:717px;">6 691.20</div>
<div class="t" style="top:228.20px;font-size:15px;line-height:18px;color:#141414;right:604px;">1 115.20</div>
<div class="t" style="top:228.20px;font-size:15px;line-height:18px;color:#141414;right:481px;">5 576.00</div>
<div class="t" style="top:259.70px;font-size:15px;line-height:18px;color:#141414;left:16px;">9</div>
<div class="t" style="top:259.70px;font-size:15px;line-height:18px;color:#141414;left:83px;">01</div>
<div class="t" style="top:259.70px;font-size:15px;line-height:18px;color:#5b2d8e;right:1645px;text-decoration:underline;text-underline-offset:1px;">666</div>
<div class="t" style="top:259.70px;font-size:15px;line-height:18px;color:#141414;left:224px;">22.01.2025</div>
<div class="t" style="top:259.70px;font-size:15px;line-height:18px;color:#141414;left:319.5px;transform:scaleX(0.955);transform-origin:0 0;">АВРОРА ООО</div>
<div class="t" style="top:259.70px;font-size:15px;line-height:18px;color:#141414;left:477px;">0276968487</div>
<div class="t" style="top:259.70px;font-size:15px;line-height:18px;color:#141414;left:590px;">027601001</div>
<div class="t" style="top:259.70px;font-size:15px;line-height:18px;color:#141414;right:829px;">400.00</div>
<div class="t" style="top:259.70px;font-size:15px;line-height:18px;color:#141414;right:717px;">400.00</div>
<div class="t" style="top:259.70px;font-size:15px;line-height:18px;color:#141414;right:604px;">66.67</div>
<div class="t" style="top:259.70px;font-size:15px;line-height:18px;color:#141414;right:481px;">333.33</div>
<div class="t" style="top:291.20px;font-size:15px;line-height:18px;color:#141414;left:16px;">10</div>
<div class="t" style="top:291.20px;font-size:15px;line-height:18px;color:#141414;left:83px;">01</div>
<div class="t" style="top:291.20px;font-size:15px;line-height:18px;color:#5b2d8e;right:1645px;text-decoration:underline;text-underline-offset:1px;">123</div>
<div class="t" style="top:291.20px;font-size:15px;line-height:18px;color:#141414;left:224px;">29.01.2025</div>
<div class="t" style="top:291.20px;font-size:15px;line-height:18px;color:#141414;left:319.5px;">213</div>
<div class="t" style="top:291.20px;font-size:15px;line-height:18px;color:#141414;left:477px;">5001007322...</div>
<div class="t" style="top:291.20px;font-size:15px;line-height:18px;color:#141414;left:590px;"></div>
<div class="t" style="top:291.20px;font-size:15px;line-height:18px;color:#141414;right:829px;">10.00</div>
<div class="t" style="top:291.20px;font-size:15px;line-height:18px;color:#141414;right:717px;">10.00</div>
<div class="t" style="top:291.20px;font-size:15px;line-height:18px;color:#141414;right:604px;">1.67</div>
<div class="t" style="top:291.20px;font-size:15px;line-height:18px;color:#141414;right:481px;">8.33</div>
<div class="t" style="top:322.70px;font-size:15px;line-height:18px;color:#141414;left:16px;">11</div>
<div class="t" style="top:322.70px;font-size:15px;line-height:18px;color:#141414;left:83px;">01</div>
<div class="t" style="top:322.70px;font-size:15px;line-height:18px;color:#5b2d8e;right:1645px;text-decoration:underline;text-underline-offset:1px;">111</div>
<div class="t" style="top:322.70px;font-size:15px;line-height:18px;color:#141414;left:224px;">29.01.2025</div>
<div class="t" style="top:322.70px;font-size:15px;line-height:18px;color:#141414;left:319.5px;transform:scaleX(0.89);transform-origin:0 0;">THREEWAY STEEL</div>
<div class="t" style="top:322.70px;font-size:15px;line-height:18px;color:#141414;left:477px;"></div>
<div class="t" style="top:322.70px;font-size:15px;line-height:18px;color:#141414;left:590px;"></div>
<div class="t" style="top:322.70px;font-size:15px;line-height:18px;color:#141414;right:829px;">10.00</div>
<div class="t" style="top:322.70px;font-size:15px;line-height:18px;color:#141414;right:717px;">10.00</div>
<div class="t" style="top:322.70px;font-size:15px;line-height:18px;color:#141414;right:604px;">1.67</div>
<div class="t" style="top:322.70px;font-size:15px;line-height:18px;color:#141414;right:481px;">8.33</div>
</div>
<div class="b" style="left:7px;top:751px;width:1837px;height:68px;background:#f9f9fa;"></div>
<div class="b" style="left:7px;top:751px;width:1837px;height:1px;background:#e4e5eb;"></div>
<div class="b" style="left:7px;top:751px;width:1px;height:68px;background:#dfe1e8;"></div>
<div class="b" style="left:75px;top:751px;width:1px;height:68px;background:#e4e5eb;"></div>
<div class="b" style="left:120px;top:751px;width:1px;height:68px;background:#e4e5eb;"></div>
<div class="b" style="left:216px;top:751px;width:1px;height:68px;background:#e4e5eb;"></div>
<div class="b" style="left:312px;top:751px;width:1px;height:68px;background:#e4e5eb;"></div>
<div class="b" style="left:469px;top:751px;width:1px;height:68px;background:#e4e5eb;"></div>
<div class="b" style="left:582px;top:751px;width:1px;height:68px;background:#e4e5eb;"></div>
<div class="b" style="left:694px;top:751px;width:1px;height:68px;background:#e4e5eb;"></div>
<div class="b" style="left:807px;top:751px;width:1px;height:68px;background:#e4e5eb;"></div>
<div class="b" style="left:919px;top:751px;width:1px;height:68px;background:#e4e5eb;"></div>
<div class="b" style="left:1032px;top:751px;width:1px;height:68px;background:#e4e5eb;"></div>
<div class="b" style="left:1144px;top:751px;width:1px;height:68px;background:#e4e5eb;"></div>
<div class="b" style="left:1257px;top:751px;width:1px;height:68px;background:#e4e5eb;"></div>
<div class="b" style="left:1380px;top:751px;width:1px;height:68px;background:#e4e5eb;"></div>
<div class="b" style="left:1504px;top:751px;width:1px;height:68px;background:#e4e5eb;"></div>
<div class="b" style="left:1628px;top:751px;width:1px;height:68px;background:#e4e5eb;"></div>
<div class="b" style="left:1752px;top:751px;width:1px;height:68px;background:#e4e5eb;"></div>
<svg class="b" style="left:698px;top:756px;" width="40" height="63" viewBox="698 756 40 63"><path d="M707.40 759.80L715.30 759.80L715.30 761.80L710.64 761.80L712.93 765.05L710.64 768.30L715.30 768.30L715.30 770.30L707.40 770.30L707.40 768.70L710.56 765.05L707.40 761.40Z" fill="#4a4e57"/><rect x="703" y="779.1" width="18" height="17.8" rx="2.6" fill="#0b8b44"/><path d="M708.50 781.80L715.10 781.80L715.10 783.15L711.21 783.15L713.12 787.10L711.21 791.05L715.10 791.05L715.10 792.40L708.50 792.40L708.50 791.32L711.14 787.10L708.50 782.88Z" fill="#f2f8f4"/><path d="M707.40 804.80L715.30 804.80L715.30 806.80L710.64 806.80L712.93 810.05L710.64 813.30L715.30 813.30L715.30 815.30L707.40 815.30L707.40 813.70L710.56 810.05L707.40 806.40Z" fill="#4a4e57"/><path d="M715.2 810H721L718.9 812.8V816.7H717.3V812.8Z" fill="#0b8b44"/></svg>
<div class="t" style="top:756.80px;font-size:15px;line-height:18.0px;color:#141414;font-weight:400;font-style:normal;right:1055px;text-align:right;">0.00</div>
<div class="t" style="top:801.20px;font-size:15px;line-height:18.0px;color:#141414;font-weight:400;font-style:normal;right:1055px;text-align:right;">0.00</div>
<svg class="b" style="left:811px;top:756px;" width="40" height="63" viewBox="811 756 40 63"><path d="M820.40 759.80L828.30 759.80L828.30 761.80L823.64 761.80L825.93 765.05L823.64 768.30L828.30 768.30L828.30 770.30L820.40 770.30L820.40 768.70L823.56 765.05L820.40 761.40Z" fill="#4a4e57"/><rect x="816" y="779.1" width="18" height="17.8" rx="2.6" fill="#0b8b44"/><path d="M821.50 781.80L828.10 781.80L828.10 783.15L824.21 783.15L826.12 787.10L824.21 791.05L828.10 791.05L828.10 792.40L821.50 792.40L821.50 791.32L824.14 787.10L821.50 782.88Z" fill="#f2f8f4"/><path d="M820.40 804.80L828.30 804.80L828.30 806.80L823.64 806.80L825.93 810.05L823.64 813.30L828.30 813.30L828.30 815.30L820.40 815.30L820.40 813.70L823.56 810.05L820.40 806.40Z" fill="#4a4e57"/><path d="M828.2 810H834L831.9 812.8V816.7H830.3V812.8Z" fill="#0b8b44"/></svg>
<svg class="b" style="left:923px;top:756px;" width="40" height="63" viewBox="923 756 40 63"><path d="M932.40 759.80L940.30 759.80L940.30 761.80L935.64 761.80L937.93 765.05L935.64 768.30L940.30 768.30L940.30 770.30L932.40 770.30L932.40 768.70L935.56 765.05L932.40 761.40Z" fill="#4a4e57"/><rect x="928" y="779.1" width="18" height="17.8" rx="2.6" fill="#0b8b44"/><path d="M933.50 781.80L940.10 781.80L940.10 783.15L936.21 783.15L938.12 787.10L936.21 791.05L940.10 791.05L940.10 792.40L933.50 792.40L933.50 791.32L936.14 787.10L933.50 782.88Z" fill="#f2f8f4"/><path d="M932.40 804.80L940.30 804.80L940.30 806.80L935.64 806.80L937.93 810.05L935.64 813.30L940.30 813.30L940.30 815.30L932.40 815.30L932.40 813.70L935.56 810.05L932.40 806.40Z" fill="#4a4e57"/><path d="M940.2 810H946L943.9 812.8V816.7H942.3V812.8Z" fill="#0b8b44"/></svg>
<div class="t" style="top:756.80px;font-size:15px;line-height:18.0px;color:#141414;font-weight:400;font-style:normal;left:947px;">20 360 9...</div>
<div class="t" style="top:801.20px;font-size:15px;line-height:18.0px;color:#141414;font-weight:400;font-style:normal;left:947px;">20 360 9...</div>
<svg class="b" style="left:1036px;top:756px;" width="40" height="63" viewBox="1036 756 40 63"><path d="M1045.40 759.80L1053.30 759.80L1053.30 761.80L1048.64 761.80L1050.93 765.05L1048.64 768.30L1053.30 768.30L1053.30 770.30L1045.40 770.30L1045.40 768.70L1048.56 765.05L1045.40 761.40Z" fill="#4a4e57"/><rect x="1041" y="779.1" width="18" height="17.8" rx="2.6" fill="#0b8b44"/><path d="M1046.50 781.80L1053.10 781.80L1053.10 783.15L1049.21 783.15L1051.12 787.10L1049.21 791.05L1053.10 791.05L1053.10 792.40L1046.50 792.40L1046.50 791.32L1049.14 787.10L1046.50 782.88Z" fill="#f2f8f4"/><path d="M1045.40 804.80L1053.30 804.80L1053.30 806.80L1048.64 806.80L1050.93 810.05L1048.64 813.30L1053.30 813.30L1053.30 815.30L1045.40 815.30L1045.40 813.70L1048.56 810.05L1045.40 806.40Z" fill="#4a4e57"/><path d="M1053.2 810H1059L1056.9 812.8V816.7H1055.3V812.8Z" fill="#0b8b44"/></svg>
<div class="t" style="top:756.80px;font-size:15px;line-height:18.0px;color:#141414;font-weight:400;font-style:normal;left:1060px;">20 360 9...</div>
<div class="t" style="top:801.20px;font-size:15px;line-height:18.0px;color:#141414;font-weight:400;font-style:normal;left:1060px;">20 360 9...</div>
<svg class="b" style="left:1148px;top:756px;" width="40" height="63" viewBox="1148 756 40 63"><path d="M1157.40 759.80L1165.30 759.80L1165.30 761.80L1160.64 761.80L1162.93 765.05L1160.64 768.30L1165.30 768.30L1165.30 770.30L1157.40 770.30L1157.40 768.70L1160.56 765.05L1157.40 761.40Z" fill="#4a4e57"/><rect x="1153" y="779.1" width="18" height="17.8" rx="2.6" fill="#0b8b44"/><path d="M1158.50 781.80L1165.10 781.80L1165.10 783.15L1161.21 783.15L1163.12 787.10L1161.21 791.05L1165.10 791.05L1165.10 792.40L1158.50 792.40L1158.50 791.32L1161.14 787.10L1158.50 782.88Z" fill="#f2f8f4"/><path d="M1157.40 804.80L1165.30 804.80L1165.30 806.80L1160.64 806.80L1162.93 810.05L1160.64 813.30L1165.30 813.30L1165.30 815.30L1157.40 815.30L1157.40 813.70L1160.56 810.05L1157.40 806.40Z" fill="#4a4e57"/><path d="M1165.2 810H1171L1168.9 812.8V816.7H1167.3V812.8Z" fill="#0b8b44"/></svg>
<div class="t" style="top:756.80px;font-size:15px;line-height:18.0px;color:#141414;font-weight:400;font-style:normal;left:1172px;">3 393 49...</div>
<div class="t" style="top:801.20px;font-size:15px;line-height:18.0px;color:#141414;font-weight:400;font-style:normal;left:1172px;">3 393 49...</div>
<svg class="b" style="left:1261px;top:756px;" width="40" height="63" viewBox="1261 756 40 63"><path d="M1270.40 759.80L1278.30 759.80L1278.30 761.80L1273.64 761.80L1275.93 765.05L1273.64 768.30L1278.30 768.30L1278.30 770.30L1270.40 770.30L1270.40 768.70L1273.56 765.05L1270.40 761.40Z" fill="#4a4e57"/><rect x="1266" y="779.1" width="18" height="17.8" rx="2.6" fill="#0b8b44"/><path d="M1271.50 781.80L1278.10 781.80L1278.10 783.15L1274.21 783.15L1276.12 787.10L1274.21 791.05L1278.10 791.05L1278.10 792.40L1271.50 792.40L1271.50 791.32L1274.14 787.10L1271.50 782.88Z" fill="#f2f8f4"/><path d="M1270.40 804.80L1278.30 804.80L1278.30 806.80L1273.64 806.80L1275.93 810.05L1273.64 813.30L1278.30 813.30L1278.30 815.30L1270.40 815.30L1270.40 813.70L1273.56 810.05L1270.40 806.40Z" fill="#4a4e57"/><path d="M1278.2 810H1284L1281.9 812.8V816.7H1280.3V812.8Z" fill="#0b8b44"/></svg>
<div class="t" style="top:756.80px;font-size:15px;line-height:18.0px;color:#141414;font-weight:400;font-style:normal;left:1285px;">16 967 491...</div>
<div class="t" style="top:801.20px;font-size:15px;line-height:18.0px;color:#141414;font-weight:400;font-style:normal;left:1285px;">16 967 491...</div>
<svg class="b" style="left:1384px;top:756px;" width="40" height="63" viewBox="1384 756 40 63"><path d="M1393.40 759.80L1401.30 759.80L1401.30 761.80L1396.64 761.80L1398.93 765.05L1396.64 768.30L1401.30 768.30L1401.30 770.30L1393.40 770.30L1393.40 768.70L1396.56 765.05L1393.40 761.40Z" fill="#4a4e57"/><rect x="1389" y="779.1" width="18" height="17.8" rx="2.6" fill="#0b8b44"/><path d="M1394.50 781.80L1401.10 781.80L1401.10 783.15L1397.21 783.15L1399.12 787.10L1397.21 791.05L1401.10 791.05L1401.10 792.40L1394.50 792.40L1394.50 791.32L1397.14 787.10L1394.50 782.88Z" fill="#f2f8f4"/><path d="M1393.40 804.80L1401.30 804.80L1401.30 806.80L1396.64 806.80L1398.93 810.05L1396.64 813.30L1401.30 813.30L1401.30 815.30L1393.40 815.30L1393.40 813.70L1396.56 810.05L1393.40 806.40Z" fill="#4a4e57"/><path d="M1401.2 810H1407L1404.9 812.8V816.7H1403.3V812.8Z" fill="#0b8b44"/></svg>
<svg class="b" style="left:1508px;top:756px;" width="40" height="63" viewBox="1508 756 40 63"><path d="M1517.40 759.80L1525.30 759.80L1525.30 761.80L1520.64 761.80L1522.93 765.05L1520.64 768.30L1525.30 768.30L1525.30 770.30L1517.40 770.30L1517.40 768.70L1520.56 765.05L1517.40 761.40Z" fill="#4a4e57"/><rect x="1513" y="779.1" width="18" height="17.8" rx="2.6" fill="#0b8b44"/><path d="M1518.50 781.80L1525.10 781.80L1525.10 783.15L1521.21 783.15L1523.12 787.10L1521.21 791.05L1525.10 791.05L1525.10 792.40L1518.50 792.40L1518.50 791.32L1521.14 787.10L1518.50 782.88Z" fill="#f2f8f4"/><path d="M1517.40 804.80L1525.30 804.80L1525.30 806.80L1520.64 806.80L1522.93 810.05L1520.64 813.30L1525.30 813.30L1525.30 815.30L1517.40 815.30L1517.40 813.70L1520.56 810.05L1517.40 806.40Z" fill="#4a4e57"/><path d="M1525.2 810H1531L1528.9 812.8V816.7H1527.3V812.8Z" fill="#0b8b44"/></svg>
<svg class="b" style="left:1632px;top:756px;" width="40" height="63" viewBox="1632 756 40 63"><path d="M1641.40 759.80L1649.30 759.80L1649.30 761.80L1644.64 761.80L1646.93 765.05L1644.64 768.30L1649.30 768.30L1649.30 770.30L1641.40 770.30L1641.40 768.70L1644.56 765.05L1641.40 761.40Z" fill="#4a4e57"/><rect x="1637" y="779.1" width="18" height="17.8" rx="2.6" fill="#0b8b44"/><path d="M1642.50 781.80L1649.10 781.80L1649.10 783.15L1645.21 783.15L1647.12 787.10L1645.21 791.05L1649.10 791.05L1649.10 792.40L1642.50 792.40L1642.50 791.32L1645.14 787.10L1642.50 782.88Z" fill="#f2f8f4"/><path d="M1641.40 804.80L1649.30 804.80L1649.30 806.80L1644.64 806.80L1646.93 810.05L1644.64 813.30L1649.30 813.30L1649.30 815.30L1641.40 815.30L1641.40 813.70L1644.56 810.05L1641.40 806.40Z" fill="#4a4e57"/><path d="M1649.2 810H1655L1652.9 812.8V816.7H1651.3V812.8Z" fill="#0b8b44"/></svg>
<svg class="b" style="left:1756px;top:756px;" width="40" height="63" viewBox="1756 756 40 63"><path d="M1765.40 759.80L1773.30 759.80L1773.30 761.80L1768.64 761.80L1770.93 765.05L1768.64 768.30L1773.30 768.30L1773.30 770.30L1765.40 770.30L1765.40 768.70L1768.56 765.05L1765.40 761.40Z" fill="#4a4e57"/><rect x="1761" y="779.1" width="18" height="17.8" rx="2.6" fill="#0b8b44"/><path d="M1766.50 781.80L1773.10 781.80L1773.10 783.15L1769.21 783.15L1771.12 787.10L1769.21 791.05L1773.10 791.05L1773.10 792.40L1766.50 792.40L1766.50 791.32L1769.14 787.10L1766.50 782.88Z" fill="#f2f8f4"/><path d="M1765.40 804.80L1773.30 804.80L1773.30 806.80L1768.64 806.80L1770.93 810.05L1768.64 813.30L1773.30 813.30L1773.30 815.30L1765.40 815.30L1765.40 813.70L1768.56 810.05L1765.40 806.40Z" fill="#4a4e57"/><path d="M1773.2 810H1779L1776.9 812.8V816.7H1775.3V812.8Z" fill="#0b8b44"/></svg>
<div class="b" style="left:1833px;top:293px;width:9px;height:125px;background:#8d9096;border-radius:4px;z-index:30;"></div>
<div class="t" style="top:248.89px;font-size:16.6px;line-height:19.92px;color:#343a48;font-weight:400;font-style:normal;-webkit-text-stroke:0.3px #343a48;left:30.4px;letter-spacing:0.45px;">Книга покупок за I квартал 2025 г.</div>
<div class="b" style="left:326px;top:247px;width:23px;height:23px;background:#0a8c43;border-radius:3px;"></div>
<div class="b" style="left:331.9px;top:257.3px;width:11.100000000000023px;height:2.1999999999999886px;background:#eaf6ee;"></div>
<div class="b" style="left:336.3px;top:253px;width:2.1999999999999886px;height:11px;background:#eaf6ee;"></div>
<svg class="b" style="left:376px;top:246px;" width="24" height="25" viewBox="376 246 24 25"><path d="M380.1 251.2H395.2" stroke="#d0193f" stroke-width="3" stroke-linecap="round"/><path d="M385.3 249.4H389.7" stroke="#d0193f" stroke-width="2.6" stroke-linecap="round"/><path d="M380.9 252.7V266A1.6 1.6 0 0 0 382.5 267.5H392.6A1.6 1.6 0 0 0 394.2 266V252.7" fill="none" stroke="#d0193f" stroke-width="2.4"/><rect x="384.2" y="255.1" width="2" height="8.7" fill="#d0193f"/><rect x="388.9" y="255.1" width="2" height="8.7" fill="#d0193f"/></svg>
<div class="t" style="left:1421.5px;top:248.64px;font-size:14.6px;line-height:18px;color:#4a4f5a">строки: <b style="color:#343a48">48</b></div>
<div class="t" style="left:1500px;top:248.64px;font-size:14.6px;line-height:18px;color:#4a4f5a">выделено: <b style="color:#343a48">0</b></div>
<div class="t" style="left:1591px;top:248.64px;font-size:14.6px;line-height:18px;color:#4a4f5a">в фильтре: <b style="color:#343a48">0</b></div>
<div class="b" style="left:1698.3px;top:247.2px;width:22.5px;height:22.400000000000034px;background:linear-gradient(#138a45,#117239);border-radius:2px;"></div>
<div class="t" style="top:251.22px;font-size:13.5px;line-height:16.2px;color:#eef6f0;font-weight:700;font-style:normal;left:1694.5px;width:30px;text-align:center;">X</div>
<div class="b" style="left:1745px;top:252px;width:23px;height:13px;background:linear-gradient(90deg,#0a8c43 60%,#9cc9a8);border-radius:6.5px;"></div>
<div class="b" style="left:1756.1px;top:250.6px;width:15.8px;height:15.8px;border-radius:50%;background:#fff;box-shadow:0 1px 3px rgba(0,0,0,0.35);"></div>
<svg class="b" style="left:1796px;top:246px;" width="25" height="25" viewBox="1796 246 25 25"><rect x="1805.95" y="248.3" width="4.7" height="5.5" rx="1.8" transform="rotate(0 1808.3 258.5)" fill="#3f434e"/><rect x="1805.95" y="248.3" width="4.7" height="5.5" rx="1.8" transform="rotate(45 1808.3 258.5)" fill="#3f434e"/><rect x="1805.95" y="248.3" width="4.7" height="5.5" rx="1.8" transform="rotate(90 1808.3 258.5)" fill="#3f434e"/><rect x="1805.95" y="248.3" width="4.7" height="5.5" rx="1.8" transform="rotate(135 1808.3 258.5)" fill="#3f434e"/><rect x="1805.95" y="248.3" width="4.7" height="5.5" rx="1.8" transform="rotate(180 1808.3 258.5)" fill="#3f434e"/><rect x="1805.95" y="248.3" width="4.7" height="5.5" rx="1.8" transform="rotate(225 1808.3 258.5)" fill="#3f434e"/><rect x="1805.95" y="248.3" width="4.7" height="5.5" rx="1.8" transform="rotate(270 1808.3 258.5)" fill="#3f434e"/><rect x="1805.95" y="248.3" width="4.7" height="5.5" rx="1.8" transform="rotate(315 1808.3 258.5)" fill="#3f434e"/><circle cx="1808.3" cy="258.5" r="5.9" fill="none" stroke="#3f434e" stroke-width="3.2"/></svg>
<div class="b" style="left:1831px;top:237px;width:21px;height:514px;background:#fff;z-index:20;"></div>
<div class="b" style="left:1844px;top:236px;width:1px;height:583px;background:#d6d9e6;z-index:21;"></div>
<div class="b" style="left:1845px;top:751px;width:7px;height:68px;background:#fff;z-index:21;"></div>
<div class="b" style="left:4px;top:232px;width:1835px;height:527px;border:5px solid #ec1c24;box-sizing:border-box;z-index:40;"></div></body></html>
